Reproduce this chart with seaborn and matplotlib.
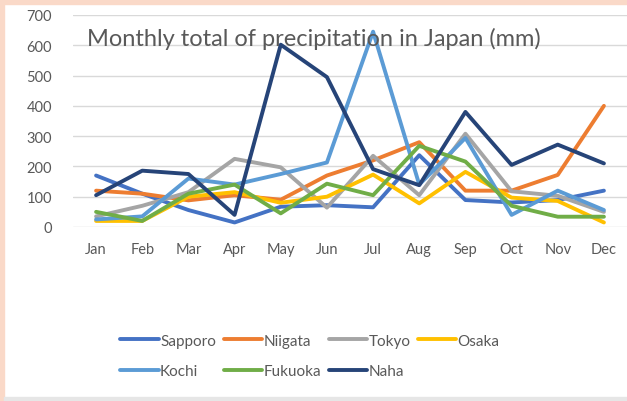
import pandas as pd
import seaborn as sns
import matplotlib.pyplot as plt
from matplotlib.patches import Rectangle

# === Data (mm) ===
months = ["Jan", "Feb", "Mar", "Apr", "May", "Jun", "Jul", "Aug", "Sep", "Oct", "Nov", "Dec"]
cities = ["Sapporo", "Niigata", "Tokyo", "Osaka", "Kochi", "Fukuoka", "Naha"]

sapporo = [170, 110, 56, 15, 67, 72, 65, 237, 89, 81, 89, 120]
niigata = [120, 110, 88, 105, 90, 170, 220, 280, 120, 120, 172, 400]
tokyo = [35, 70, 115, 225, 197, 64, 235, 105, 308, 118, 103, 50]
osaka = [20, 20, 100, 115, 80, 100, 173, 78, 182, 97, 86, 15]
kochi = [25, 35, 160, 140, 175, 213, 645, 140, 294, 40, 120, 56]
fukuoka = [50, 20, 110, 140, 45, 143, 105, 268, 216, 70, 34, 34]
naha = [105, 186, 175, 40, 602, 495, 191, 138, 380, 205, 272, 210]

colors = ["#4472C4", "#ED7D31", "#A5A5A5", "#FFC000", "#5B9BD5", "#70AD47", "#264478"]

values = [sapporo, niigata, tokyo, osaka, kochi, fukuoka, naha]
rows = []
for city, vals in zip(cities, values):
    for m, v in zip(months, vals):
        rows.append({"month": m, "city": city, "mm": v})
df = pd.DataFrame(rows)

sns.set_style("white")
plt.rcParams["font.family"] = ["Lato", "DejaVu Sans"]

fig = plt.figure(figsize=(6.27, 4.02), dpi=100)
ax = fig.add_axes([73 / 627, 1 - 228 / 402, 554 / 627, 212 / 402])

sns.lineplot(data=df, x="month", y="mm", hue="city", hue_order=cities,
             palette=colors, linewidth=2.8, sort=False, ax=ax, legend=False)

ax.set_xlim(-0.5, 11.5)
ax.set_ylim(0, 700)
ax.set_yticks(range(0, 701, 100))
ax.grid(axis="y", color="#D9D9D9", linewidth=1)
ax.set_axisbelow(True)
for s in ax.spines.values():
    s.set_visible(False)
ax.set_xlabel("")
ax.set_ylabel("")
ax.tick_params(axis="both", length=0, colors="#595959", labelsize=10.5)
ax.tick_params(axis="x", pad=11)
ax.tick_params(axis="y", pad=15)

fig.text(87 / 627, 1 - 46 / 402, "Monthly total of precipitation in Japan (mm)",
         fontsize=17, color="#595959", va="baseline", ha="left")

# === Legend (row-major order: matplotlib fills columns first) ===
handles = [plt.Line2D([], [], color=c, linewidth=2.8) for c in colors]
order = [0, 4, 1, 5, 2, 6, 3]
fig.legend([handles[i] for i in order], [cities[i] for i in order],
           ncol=4, frameon=False, loc="center",
           bbox_to_anchor=(310 / 627, 1 - 357 / 402), fontsize=11,
           handlelength=2.5, handletextpad=0.1, columnspacing=0.5,
           labelspacing=1.1, labelcolor="#595959")

# peach frame edges of the screenshot
fig.patches.append(Rectangle((0, 1 - 5 / 402), 1, 5 / 402, transform=fig.transFigure,
                             color="#FAD9C8", zorder=0))
fig.patches.append(Rectangle((0, 0), 4 / 627, 1, transform=fig.transFigure,
                             color="#FAD9C8", zorder=0))
fig.patches.append(Rectangle((4 / 627, 0), 1, 4 / 402, transform=fig.transFigure,
                             color="#E6E6E6", zorder=0))

fig.savefig("out.png", dpi=100)
